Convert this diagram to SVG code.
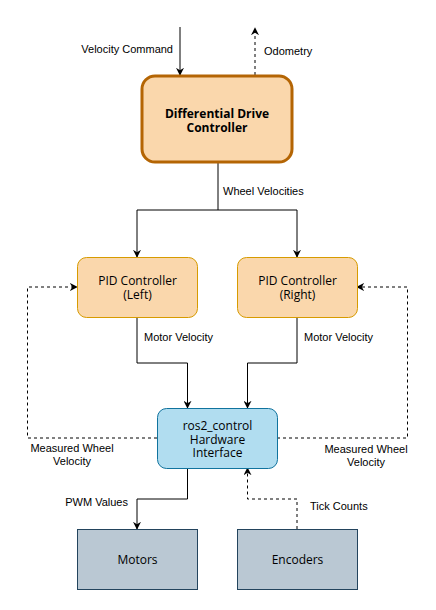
<svg xmlns="http://www.w3.org/2000/svg" width="436" height="610" viewBox="0 0 436 610">
<defs>
<marker id="arr" viewBox="0 0 10 10" refX="9" refY="5" markerWidth="8" markerHeight="8" markerUnits="userSpaceOnUse" orient="auto">
<path d="M0,0 L10,5 L0,10 L3,5 Z" fill="#000"/>
</marker>
</defs>
<style>
.e{fill:none;stroke:#000;stroke-width:1;}
.d{stroke-dasharray:3 3;}
.lbl{font-family:"Liberation Sans",Arial,sans-serif;font-size:11px;fill:#000;}
.nt{font-family:"Open Sans","Noto Sans",sans-serif;font-size:12px;fill:#000;text-anchor:middle;}
.b{font-weight:bold;}
.pid{fill:#fad7ac;stroke:#d79b00;stroke-width:1;}
.hw{fill:#b1ddf0;stroke:#10739e;stroke-width:1;}
.gr{fill:#bac8d3;stroke:#23445d;stroke-width:1;}
</style>
<rect width="436" height="610" fill="#fff"/>
<g id="connectors">
<path class="e" d="M180,27 V75" marker-end="url(#arr)"/>
<path class="e d" d="M255,75 V28" marker-end="url(#arr)"/>
<path class="e" d="M218,163 V210 H137 V257" marker-end="url(#arr)"/>
<path class="e" d="M218,210 H297 V257" marker-end="url(#arr)"/>
<path class="e" d="M137,317 V363 H187.5 V408" marker-end="url(#arr)"/>
<path class="e" d="M297,317 V363 H247.5 V408" marker-end="url(#arr)"/>
<path class="e d" d="M157,438 H27.5 V287 H77" marker-end="url(#arr)"/>
<path class="e d" d="M277,438 H407.5 V287 H357" marker-end="url(#arr)"/>
<path class="e" d="M187.5,468 V499 H137 V529" marker-end="url(#arr)"/>
<path class="e d" d="M297,529 V499 H247.5 V468" marker-end="url(#arr)"/>
<text class="lbl" x="173" y="53" text-anchor="end">Velocity Command</text>
<text class="lbl" x="264" y="55">Odometry</text>
<text class="lbl" x="223" y="195">Wheel Velocities</text>
<text class="lbl" x="144" y="341">Motor Velocity</text>
<text class="lbl" x="304" y="341">Motor Velocity</text>
<text class="lbl" x="72" y="452" text-anchor="middle">Measured Wheel</text>
<text class="lbl" x="72" y="465" text-anchor="middle">Velocity</text>
<text class="lbl" x="366" y="453" text-anchor="middle">Measured Wheel</text>
<text class="lbl" x="366" y="466" text-anchor="middle">Velocity</text>
<text class="lbl" x="128" y="505.5" text-anchor="end">PWM Values</text>
<text class="lbl" x="310" y="510">Tick Counts</text>
</g>
<g id="diff-drive">
<rect x="142" y="76" width="150" height="86" rx="13" fill="#fad7ac" stroke="#b46504" stroke-width="3"/>
<text class="nt b" x="217" y="118">Differential Drive</text>
<text class="nt b" x="217" y="131.5">Controller</text>
</g>
<g id="pid-left">
<rect class="pid" x="77.5" y="257.5" width="120" height="60" rx="9"/>
<text class="nt" x="137.5" y="285">PID Controller</text>
<text class="nt" x="137.5" y="299">(Left)</text>
</g>
<g id="pid-right">
<rect class="pid" x="237.5" y="257.5" width="120" height="60" rx="9"/>
<text class="nt" x="297.5" y="285">PID Controller</text>
<text class="nt" x="297.5" y="299">(Right)</text>
</g>
<g id="hardware">
<rect class="hw" x="157.5" y="408.5" width="120" height="60" rx="9"/>
<text class="nt" x="217.5" y="429.5">ros2_control</text>
<text class="nt" x="217.5" y="443.5">Hardware</text>
<text class="nt" x="217.5" y="457">Interface</text>
</g>
<g id="motors">
<rect class="gr" x="77.5" y="529.5" width="120" height="60"/>
<text class="nt" x="137.5" y="564">Motors</text>
</g>
<g id="encoders">
<rect class="gr" x="237.5" y="529.5" width="120" height="60"/>
<text class="nt" x="297.5" y="564">Encoders</text>
</g>
</svg>
